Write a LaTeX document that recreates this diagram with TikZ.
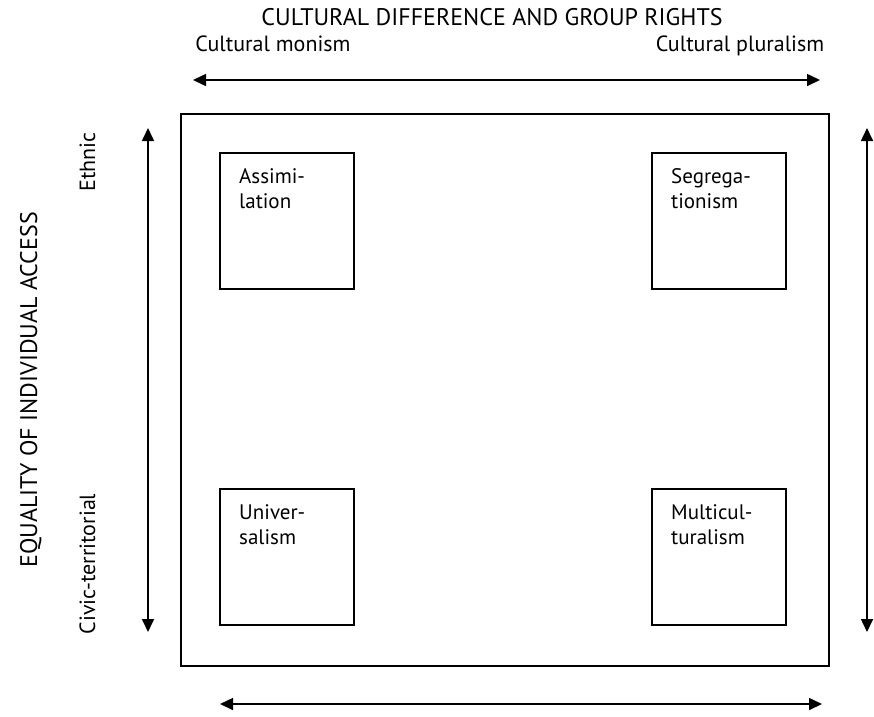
\documentclass[tikz,border=0pt]{standalone}
\usepackage{fontspec}
\setmainfont{PT Sans}
\usetikzlibrary{arrows.meta}
\tikzset{
  frame/.style={draw, line width=1.6pt},
  cell/.style={draw, line width=1.6pt, minimum width=134pt, minimum height=136pt, inner sep=0pt, anchor=north west},
  celltext/.style={anchor=north west, inner sep=0pt, align=left, font=\fontsize{21}{25}\selectfont},
  axis/.style={line width=1.6pt, {Triangle[length=13pt,width=12pt]}-{Triangle[length=13pt,width=12pt]}},
  heading/.style={font=\fontsize{24}{28}\selectfont, inner sep=0pt, anchor=base},
  pole/.style={font=\fontsize{22}{26}\selectfont, inner sep=0pt, anchor=base}
}
\begin{document}
\begin{tikzpicture}[x=1pt, y=-1pt]
  \useasboundingbox (0,0) rectangle (874,716);

  % outer frame and the four quadrant cells
  \node[frame, minimum width=648pt, minimum height=552pt, inner sep=0pt, anchor=north west] (outer) at (180,113) {};
  \node[cell] (assim) at (219,152) {};
  \node[cell] (segr)  at (651,152) {};
  \node[cell] (univ)  at (219,488) {};
  \node[cell] (multi) at (651,488) {};

  \node[celltext] (tA) at ([xshift=20pt,yshift=-16pt]assim.north west) {Assimi-\\lation};
  \node[celltext] (tS) at ([xshift=20pt,yshift=-16pt]segr.north west)  {Segrega-\\tionism};
  \node[celltext] (tU) at ([xshift=20pt,yshift=-16pt]univ.north west)  {Univer-\\salism};
  \node[celltext] (tM) at ([xshift=20pt,yshift=-16pt]multi.north west) {Multicul-\\turalism};

  % horizontal axis labels
  \node[heading] (title) at (492,25) {CULTURAL DIFFERENCE AND GROUP RIGHTS};
  \node[pole] (mon) at (273,51) {Cultural monism};
  \node[pole] (plu) at (740,51) {Cultural pluralism};

  % vertical axis labels
  \node[heading, rotate=90] (vtitle) at (37,390) {EQUALITY OF INDIVIDUAL ACCESS};
  \node[pole, rotate=90] (eth) at (95,162) {Ethnic};
  \node[pole, rotate=90] (civ) at (95,564) {Civic-territorial};

  % axis arrows
  \coordinate (tl) at (193,80);  \coordinate (tr) at (820,80);
  \coordinate (bl) at (220,704); \coordinate (br) at (822,704);
  \coordinate (lt) at (148,128); \coordinate (lb) at (148,632);
  \coordinate (rt) at (867,128); \coordinate (rb) at (867,632);
  \draw[axis] (tl) -- (tr);
  \draw[axis] (bl) -- (br);
  \draw[axis] (lb) -- (lt);
  \draw[axis] (rb) -- (rt);
\end{tikzpicture}
\end{document}
